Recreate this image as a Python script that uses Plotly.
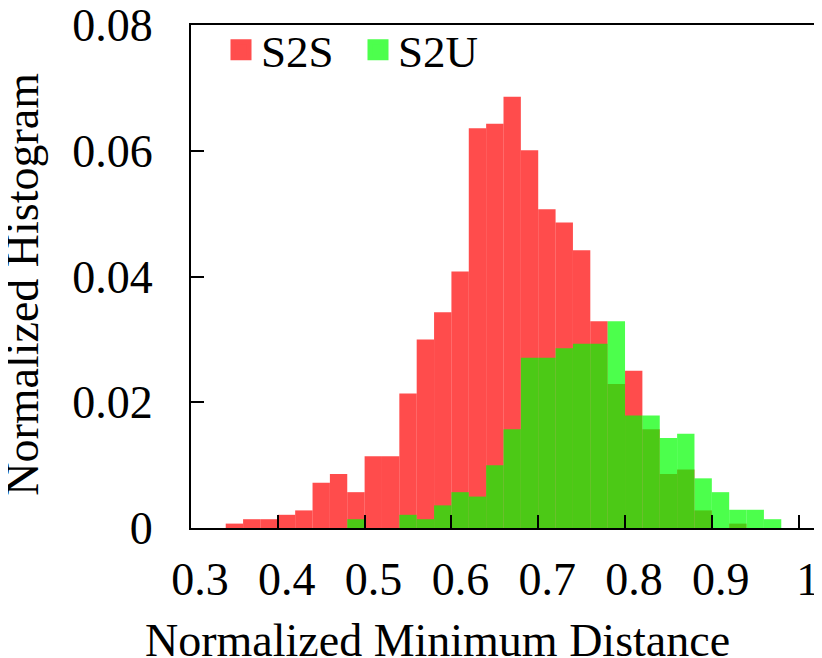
import plotly.graph_objects as go

# histogram bins (left edges), width 0.02
bin_edges = [0.34, 0.36, 0.38, 0.40, 0.42, 0.44, 0.46, 0.48, 0.50, 0.52, 0.54,
             0.56, 0.58, 0.60, 0.62, 0.64, 0.66, 0.68, 0.70, 0.72, 0.74, 0.76,
             0.78, 0.80, 0.82, 0.84, 0.86, 0.88, 0.90, 0.92, 0.94, 0.96]
bin_width = 0.02

s2s = [0.0007, 0.0014, 0.0014, 0.0021, 0.0028, 0.0072, 0.0086, 0.0057, 0.0114, 0.0114, 0.0214,
       0.0300, 0.0343, 0.0408, 0.0636, 0.0643, 0.0686, 0.0601, 0.0507, 0.0486, 0.0442, 0.0329,
       0.0229, 0.0250, 0.0157, 0.0086, 0.0093, 0.0028, 0.0, 0.0007, 0.0, 0.0]

s2u = [0.0, 0.0, 0.0, 0.0, 0.0, 0.0, 0.0, 0.0014, 0.0, 0.0, 0.0021,
       0.0014, 0.0036, 0.0057, 0.0050, 0.0100, 0.0157, 0.0271, 0.0271, 0.0286, 0.0293, 0.0293,
       0.0329, 0.0179, 0.0179, 0.0143, 0.0150, 0.0079, 0.0057, 0.0029, 0.0029, 0.0014]

x_ticks = [0.3, 0.4, 0.5, 0.6, 0.7, 0.8, 0.9, 1.0]
x_ticktext = ["0.3", "0.4", "0.5", "0.6", "0.7", "0.8", "0.9", "1"]
y_ticks = [0, 0.02, 0.04, 0.06, 0.08]
y_ticktext = ["0", "0.02", "0.04", "0.06", "0.08"]

red = "rgba(255,0,0,0.7)"
green = "rgba(0,255,0,0.7)"
# same colours as seen on white, for the legend squares
red_solid = "rgb(255,77,77)"
green_solid = "rgb(77,255,77)"
font = "Liberation Serif"

fig = go.Figure()
for name, vals, col in [("S2S", s2s, red), ("S2U", s2u, green)]:
    fig.add_trace(go.Bar(x=bin_edges, y=vals, width=bin_width, offset=0,
                         marker=dict(color=col, line=dict(width=0)),
                         name=name, showlegend=False))
# legend entries with bigger squares
for name, col in [("S2S", red_solid), ("S2U", green_solid)]:
    fig.add_trace(go.Scatter(x=[None], y=[None], mode="markers", name=name,
                             marker=dict(symbol="square", size=16, color=col,
                                         line=dict(width=5, color=col))))

axis_common = dict(showline=True, linewidth=2, linecolor="black", mirror=True,
                   ticks="inside", ticklen=13, tickwidth=2, tickcolor="black",
                   showgrid=False, zeroline=False, automargin=False,
                   ticklabeloverflow="allow",
                   tickfont=dict(family=font, size=46, color="black"))

fig.update_xaxes(range=[0.3, 1.02], tickvals=x_ticks, ticktext=x_ticktext,
                 ticklabelstandoff=10, ticklabelshift=9, **axis_common)
fig.update_yaxes(range=[0, 0.08001], tickvals=y_ticks, ticktext=y_ticktext,
                 ticklabelstandoff=27, **axis_common)

fig.add_annotation(text="Normalized Minimum Distance", xref="paper", yref="paper",
                   x=0.394, y=-0.223, xanchor="center", yanchor="middle", showarrow=False,
                   font=dict(family=font, size=46, color="black"))
fig.add_annotation(text="Normalized Histogram", xref="paper", yref="paper",
                   x=-0.27, y=0.484, xanchor="center", yanchor="middle", textangle=-90,
                   showarrow=False, font=dict(family=font, size=46, color="black"))

# page body adds 8px of margin, so the figure is a bit smaller than the window
fig.update_layout(
    width=814, height=650,
    margin=dict(l=183, r=6, t=14, b=130),
    barmode="overlay",
    plot_bgcolor="white", paper_bgcolor="white",
    legend=dict(orientation="h", x=0.048, y=1.022, xanchor="left", yanchor="top",
                bgcolor="rgba(0,0,0,0)", entrywidth=92,
                font=dict(family=font, size=45, color="black")),
)

fig.write_html("out.html")
